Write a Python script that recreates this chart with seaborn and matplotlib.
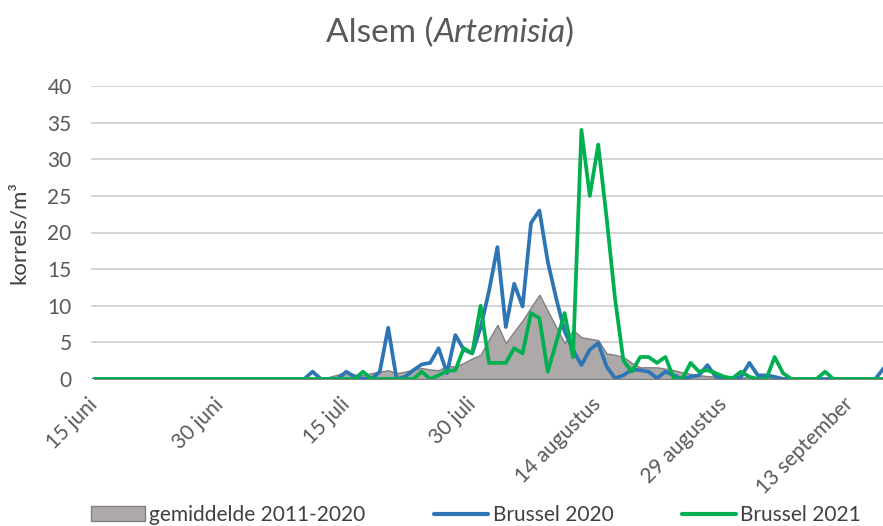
import numpy as np
import pandas as pd
import matplotlib.pyplot as plt
import matplotlib.transforms as mtransforms
from matplotlib.patches import Patch
from matplotlib.lines import Line2D
import seaborn as sns

# daily pollen counts from 15 June onwards (korrels/m3)
mean_2011_2020 = [
    0, 0, 0, 0, 0, 0, 0, 0, 0, 0,
    0, 0, 0, 0, 0, 0, 0, 0, 0, 0,
    0, 0, 0, 0, 0, 0, 0, 0, 0.3, 0.6,
    1.0, 0.6, 0.5, 0.8, 1.0, 1.2, 0.8, 1.0, 1.3, 1.5,
    1.3, 1.2, 1.8, 1.7, 2.2, 2.8, 3.3, 5.4, 7.4, 4.9,
    6.5, 8.0, 9.8, 11.5, 9.3, 7.1, 4.9, 6.7, 5.7, 5.5,
    5.3, 3.5, 3.3, 3.0, 2.2, 1.6, 1.6, 1.6, 1.4, 1.2,
    0.9, 0.7, 0.5, 0.4, 0.3, 0.4, 0.3, 0.2, 0.3, 0.2,
    0.2, 0.2, 0.1, 0.1, 0.1, 0.1, 0, 0, 0, 0,
    0, 0, 0, 0, 0,
]
brussel_2020 = [
    0, 0, 0, 0, 0, 0, 0, 0, 0, 0,
    0, 0, 0, 0, 0, 0, 0, 0, 0, 0,
    0, 0, 0, 0, 0, 0, 1.0, 0, 0, 0,
    1.0, 0.3, 0, 0, 1.0, 7.0, 0, 0.3, 1.2, 2.0,
    2.2, 4.2, 0.8, 6.0, 4.0, 3.5, 7.0, 12.0, 18.0, 7.1,
    13.0, 9.9, 21.3, 23.0, 16.0, 11.0, 6.5, 4.0, 1.9, 4.0,
    4.9, 1.7, 0.1, 0.5, 1.3, 1.2, 1.0, 0.1, 1.0, 0.5,
    0, 0.3, 0.5, 1.9, 0.3, 0, 0, 0.3, 2.2, 0.5,
    0.5, 0.3, 0, 0, 0, 0, 0, 0, 0, 0,
    0, 0, 0, 0, 1.5,
]
brussel_2021 = [
    0, 0, 0, 0, 0, 0, 0, 0, 0, 0,
    0, 0, 0, 0, 0, 0, 0, 0, 0, 0,
    0, 0, 0, 0, 0, 0, 0, 0, 0, 0,
    0, 0, 1.0, 0, 0, 0, 0, 0, 0, 1.0,
    0, 0.5, 1.1, 1.2, 4.2, 3.5, 10.0, 2.2, 2.2, 2.2,
    4.2, 3.5, 9.0, 8.3, 1.0, 5.0, 9.0, 3.0, 34.0, 25.0,
    32.0, 22.0, 11.0, 2.5, 1.0, 3.0, 3.0, 2.2, 3.0, 0.1,
    0, 2.2, 1.0, 1.2, 0.8, 0.3, 0.1, 1.0, 0.3, 0,
    0, 3.0, 0.8, 0, 0, 0, 0, 1.0, 0, 0,
    0, 0, 0, 0, 0,
]
tick_dates = ['2021-06-15', '2021-06-30', '2021-07-15', '2021-07-30',
              '2021-08-14', '2021-08-29', '2021-09-13']
tick_labels = ['15 juni', '30 juni', '15 juli', '30 juli',
               '14 augustus', '29 augustus', '13 september']
series_names = ['gemiddelde 2011-2020', 'Brussel 2020', 'Brussel 2021']

start = pd.Timestamp('2021-06-15')
df = pd.DataFrame({
    'datum': pd.date_range(start, periods=len(mean_2011_2020)),
    'gemiddelde': mean_2011_2020,
    'b2020': brussel_2020,
    'b2021': brussel_2021,
})

sns.set_theme(style='white')
plt.rcParams['font.family'] = ['Lato', 'DejaVu Sans']

grey_txt = '#595959'
blue = '#2E75B6'
green = '#00B050'
area = '#ADA9A9'

fig = plt.figure(figsize=(8.83, 5.26), dpi=100)
ax = fig.add_axes([91 / 883, 147 / 526, 792 / 883, 293 / 526])

ax.fill_between(df['datum'], df['gemiddelde'], color=area,
                edgecolor='#808080', linewidth=1.0, zorder=2)
sns.lineplot(data=df, x='datum', y='b2020', color=blue, linewidth=2.7,
             ax=ax, zorder=3)
sns.lineplot(data=df, x='datum', y='b2021', color=green, linewidth=2.7,
             ax=ax, zorder=4)

ax.set_ylim(0, 40)
ax.set_yticks(range(0, 41, 5))
ax.set_xlim(start - pd.Timedelta(hours=9), start + pd.Timedelta(hours=24 * 93.9))
ax.set_xticks(pd.to_datetime(tick_dates))
ax.set_xticklabels(tick_labels, rotation=45, ha='right', va='center',
                   rotation_mode='anchor', fontsize=15, color=grey_txt)
offset = mtransforms.ScaledTranslation(12 / 100, 0, fig.dpi_scale_trans)
for lab in ax.get_xticklabels():
    lab.set_transform(lab.get_transform() + offset)
ax.tick_params(axis='x', length=0, pad=16)
ax.tick_params(axis='y', length=0, pad=14, labelsize=15, labelcolor=grey_txt)

ax.grid(axis='y', color='#D0D0D0', linewidth=1.3, zorder=0)
ax.set_axisbelow(True)
for s in ax.spines.values():
    s.set_visible(False)

ax.set_xlabel('')
ax.set_ylabel('korrels/m³', fontsize=16, color='#404040')
ax.yaxis.set_label_coords(-0.078, 0.5)

# title with italic genus name
ty = 484 / 526
t1 = fig.text(0, ty, 'Alsem (', fontsize=24, color=grey_txt, va='baseline')
t2 = fig.text(0, ty, 'Artemisia', fontsize=24, color=grey_txt,
              va='baseline', style='italic')
t3 = fig.text(0, ty, ')', fontsize=24, color=grey_txt, va='baseline')
fig.canvas.draw()
r = fig.canvas.get_renderer()
w = [t.get_window_extent(r).width for t in (t1, t2, t3)]
x0 = 450 - sum(w) / 2
t1.set_x(x0 / 883)
t2.set_x((x0 + w[0]) / 883)
t3.set_x((x0 + w[0] + w[1]) / 883)

handles = [
    Patch(facecolor=area, edgecolor='#808080', linewidth=1.0),
    Line2D([], [], color=blue, linewidth=3),
    Line2D([], [], color=green, linewidth=3),
]
fig.legend(handles, series_names, loc='center', bbox_to_anchor=(476 / 883, 11 / 526),
           ncol=3, frameon=False, fontsize=15, labelcolor='#404040',
           handlelength=2.6, handletextpad=0.2, columnspacing=3.3)

fig.savefig('out.png', dpi=100)
